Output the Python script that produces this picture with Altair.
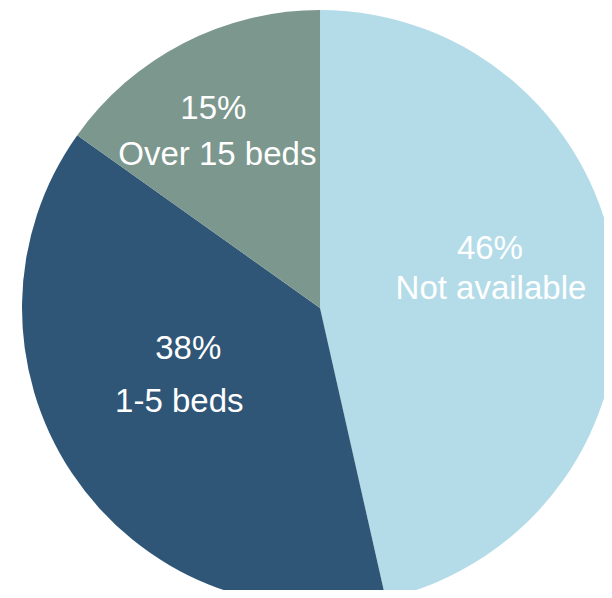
import altair as alt
import pandas as pd

categories = ["Not available", "1-5 beds", "Over 15 beds"]
values = [46, 38, 15]
pct_labels = ["46%", "38%", "15%"]
colors = ["#B4DCE8", "#2F5677", "#7C978D"]

df = pd.DataFrame({
    "category": categories,
    "value": values,
    "pct": pct_labels,
    "order": list(range(len(categories))),
})

total = sum(values)
theta_scale = alt.Scale(domain=[0, total])

base = alt.Chart(df)

CX, CY = 312, 300

pie = base.mark_arc(radius=298).encode(
    theta=alt.Theta("value:Q", stack=True, scale=theta_scale),
    color=alt.Color("category:N", scale=alt.Scale(domain=categories, range=colors), legend=None),
    order=alt.Order("order:Q"),
    x=alt.value(CX),
    y=alt.value(CY),
)

# label settings per category: (radius, dx1, dy1, dx2, dy2)
label_pos = {
    "Not available": (171, 0, -30, 1, 10),
    "1-5 beds": (163, 4, -39, -5, 14),
    "Over 15 beds": (200, -15, -11, -11, 35),
}

layers = [pie]
for cat in categories:
    r, dx1, dy1, dx2, dy2 = label_pos[cat]
    lb = base.transform_window(
        cum="sum(value)", sort=[alt.SortField("order")]
    ).transform_calculate(
        mid="datum.cum - datum.value / 2"
    ).transform_filter(alt.datum.category == cat)
    common = dict(radius=r, font="Liberation Sans", fontSize=33, color="white",
                  baseline="alphabetic", align="center")
    enc = dict(theta=alt.Theta("mid:Q", scale=theta_scale), x=alt.value(CX), y=alt.value(CY))
    layers.append(lb.mark_text(dx=dx1, dy=dy1, **common).encode(text="pct:N", **enc))
    layers.append(lb.mark_text(dx=dx2, dy=dy2, **common).encode(text="category:N", **enc))

chart = alt.layer(*layers).properties(
    width=596, height=582, padding=0, autosize=alt.AutoSizeParams(type="none")
).configure_view(stroke=None)

chart.save("out.html", embed_options={"renderer": "svg", "actions": False})
